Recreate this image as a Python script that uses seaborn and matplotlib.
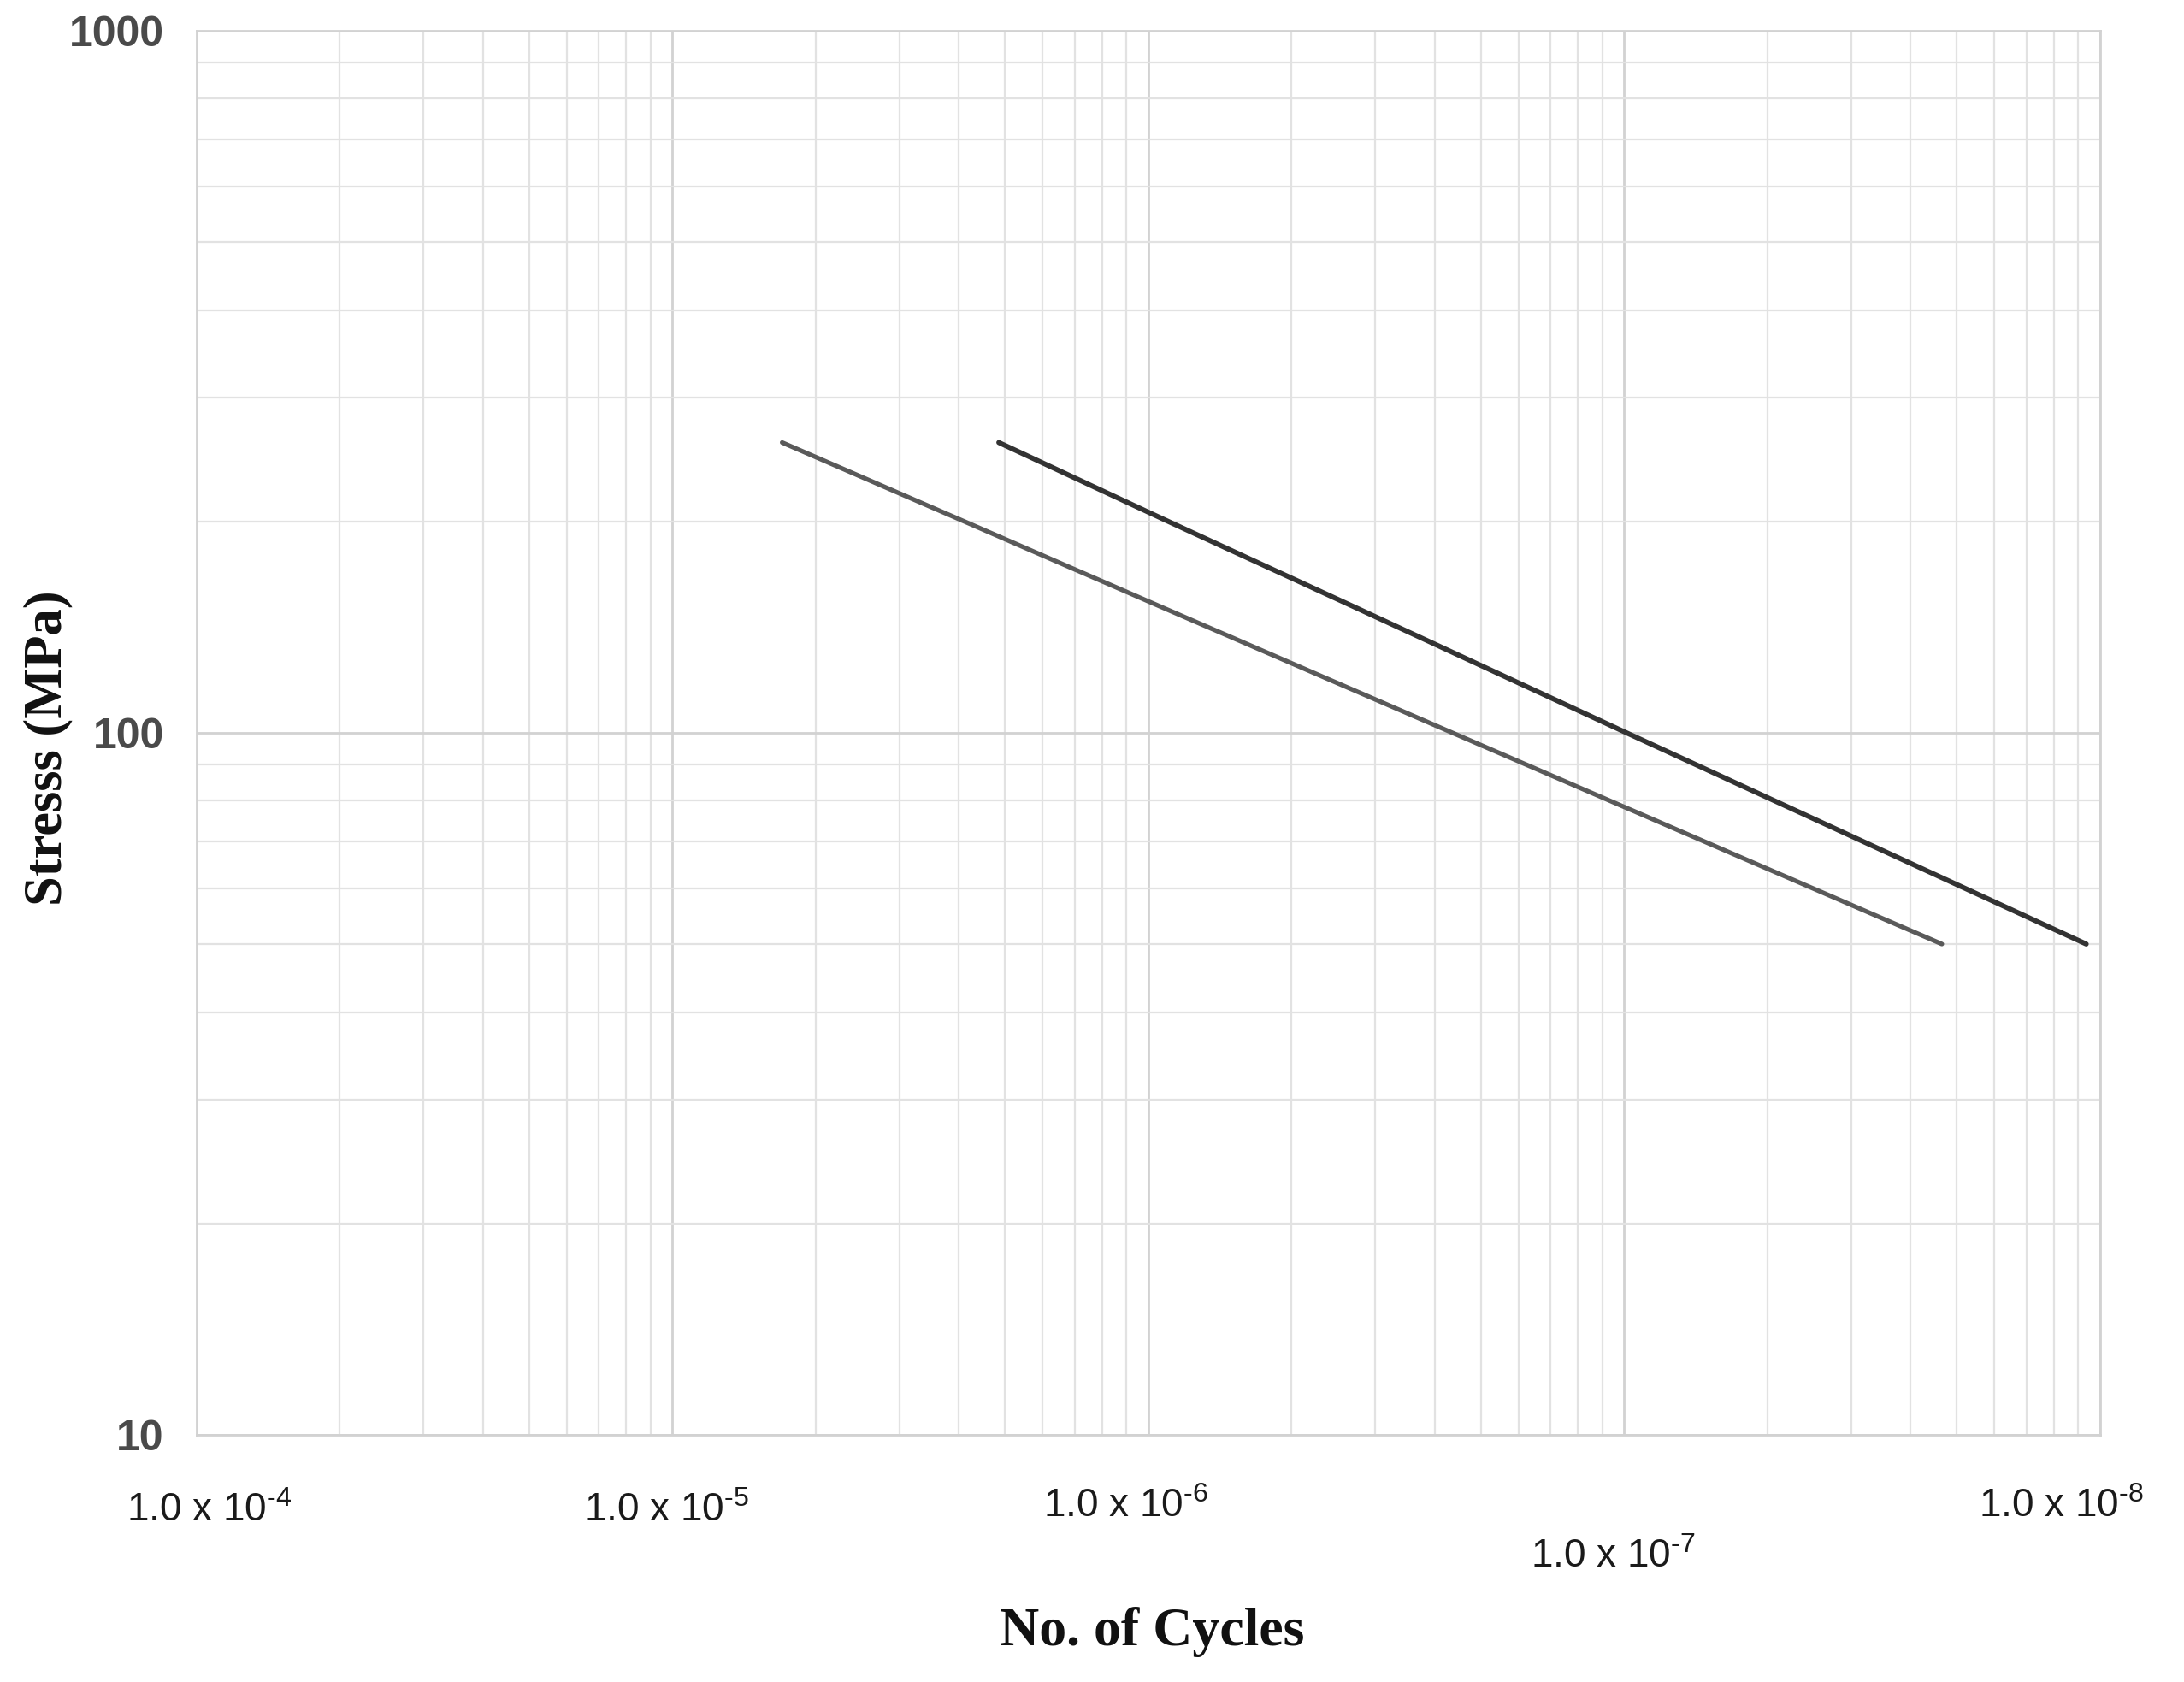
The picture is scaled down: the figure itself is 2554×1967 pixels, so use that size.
import pandas as pd
import matplotlib
matplotlib.use("Agg")
import matplotlib.pyplot as plt
import matplotlib.transforms as mtransforms
from matplotlib.ticker import LogLocator, NullFormatter, FixedLocator, FixedFormatter
import seaborn as sns

# Data
cycles_a = [1.70e5, 4.1e5, 1.09e6, 4.35e6, 4.65e7]
stress_a = [259, 200, 150, 100, 50]
cycles_b = [4.85e5, 1.10e6, 2.77e6, 1.01e7, 9.35e7]
stress_b = [259, 200, 150, 100, 50]

x_ticks = [1e4, 1e5, 1e6, 1e7, 1e8]
x_labels = ["1.0 x 10$^{\u20104}$", "1.0 x 10$^{\u20105}$", "1.0 x 10$^{\u20106}$",
            "1.0 x 10$^{\u20107}$", "1.0 x 10$^{\u20108}$"]
y_ticks = [10, 100, 1000]
y_labels = ["10", "100", "1000"]

df = pd.concat([
    pd.DataFrame({"cycles": cycles_a, "stress": stress_a, "curve": "A"}),
    pd.DataFrame({"cycles": cycles_b, "stress": stress_b, "curve": "B"}),
])

sns.set_style("white")
plt.rcParams["mathtext.fontset"] = "custom"
plt.rcParams["mathtext.rm"] = "Liberation Sans"
plt.rcParams["mathtext.it"] = "Liberation Sans"
plt.rcParams["mathtext.default"] = "rm"

fig = plt.figure(figsize=(25.54, 19.67), dpi=100)
ax = fig.add_axes([0.090, 0.147, 0.8716, 0.8348])

sns.lineplot(data=df, x="cycles", y="stress", hue="curve", sort=False,
             palette=["#5a5a5a", "#333333"], linewidth=3.8, legend=False, ax=ax)
ax.lines[1].set_linewidth(4.2)

ax.set_xscale("log")
ax.set_yscale("log")
ax.set_xlim(1e4, 1e8)
ax.set_ylim(10, 1000)

ax.xaxis.set_major_locator(FixedLocator(x_ticks))
ax.xaxis.set_major_formatter(FixedFormatter(x_labels))
ax.yaxis.set_major_locator(FixedLocator(y_ticks))
ax.yaxis.set_major_formatter(FixedFormatter(y_labels))
for axis in (ax.xaxis, ax.yaxis):
    axis.set_minor_locator(LogLocator(base=10, subs=range(2, 10)))
    axis.set_minor_formatter(NullFormatter())

ax.grid(which="major", color="#d2d2d2", linewidth=2.0)
ax.grid(which="minor", color="#e2e2e2", linewidth=1.6)
for s in ax.spines.values():
    s.set_color("#d2d2d2")
    s.set_linewidth(2.0)

ax.tick_params(which="both", direction="out", length=9.5, width=1.6, color="#cccccc")
ax.tick_params(axis="y", pad=18, labelsize=36, labelcolor="#4a4a4a")
ax.tick_params(axis="x", pad=39, labelsize=33, labelcolor="#1a1a1a")
for lab in ax.get_yticklabels():
    lab.set_fontfamily(["Liberation Sans", "DejaVu Sans"])
    lab.set_fontweight("bold")
for lab in ax.get_xticklabels():
    lab.set_fontfamily(["Liberation Sans", "DejaVu Sans"])

# the original labels sit at uneven heights
dx = [15, -7, -26, -13, -46]
dy = [0, 0, 5, -54, 5]
for lab, ox, oy in zip(ax.get_xticklabels(), dx, dy):
    lab.set_transform(lab.get_transform() +
                      mtransforms.ScaledTranslation(ox / 100, oy / 100, fig.dpi_scale_trans))

ax.set_ylabel("Stresss (MPa)", fontsize=45, fontweight="bold", va="center",
              family=["Liberation Serif", "DejaVu Serif"], color="#111111")
ax.yaxis.set_label_coords(-0.0777, 0.489)
ax.set_xlabel("No. of Cycles", fontsize=46, fontweight="bold", va="center",
              family=["Liberation Serif", "DejaVu Serif"], color="#111111")
ax.xaxis.set_label_coords(0.502, -0.1407)

fig.savefig("out.png", dpi=100, facecolor="white")
